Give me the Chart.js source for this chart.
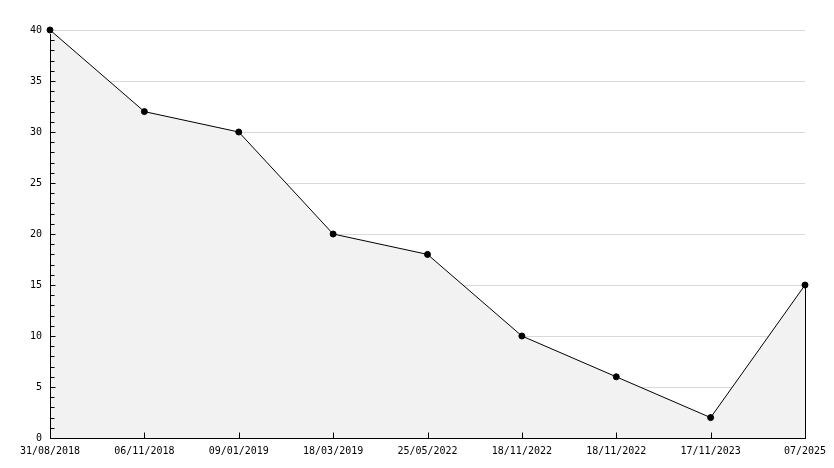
<!DOCTYPE html>
<html>
<head>
<meta charset="utf-8">
<script src="https://cdn.jsdelivr.net/npm/chart.js@4/dist/chart.umd.min.js"></script>
<style>
  html, body { margin: 0; padding: 0; background: #fff; }
  #wrap { width: 834px; height: 468px; }
</style>
</head>
<body>
<div id="wrap"><canvas id="lineChart" width="834" height="468"></canvas></div>
<script>
// adatok
const dates = ['31/08/2018', '06/11/2018', '09/01/2019', '18/03/2019', '25/05/2022',
               '18/11/2022', '18/11/2022', '17/11/2023', '07/2025'];
const values = [40, 32, 30, 20, 18, 10, 6, 2, 15];
const yMin = 0;
const yMax = 40;
const yStep = 5;

// tengelyek befelé álló jelölései + jobb oldali lezárás
const axisTicks = {
  id: 'axisTicks',
  beforeDatasetsDraw(chart) {
    const ctx = chart.ctx;
    const x = chart.scales.x;
    const y = chart.scales.y;
    // utolsó pont lezárása (a kitöltés szegélye)
    const last = values.length - 1;
    const lx = Math.round(x.getPixelForValue(last)) + 0.5;
    ctx.save();
    ctx.strokeStyle = '#000';
    ctx.lineWidth = 1;
    ctx.beginPath();
    ctx.moveTo(lx, y.getPixelForValue(values[last]));
    ctx.lineTo(lx, Math.round(y.bottom) + 0.5);
    ctx.stroke();
    ctx.restore();
  },
  afterDatasetsDraw(chart) {
    const ctx = chart.ctx;
    const x = chart.scales.x;
    const y = chart.scales.y;
    const left = Math.round(x.left) + 0.5;
    const bottom = Math.round(y.bottom) + 0.5;
    ctx.save();
    ctx.strokeStyle = '#000';
    ctx.lineWidth = 1;
    ctx.beginPath();
    // y tengely
    ctx.moveTo(left, Math.round(y.top) + 4);
    ctx.lineTo(left, bottom);
    // x tengely
    ctx.moveTo(left, bottom);
    ctx.lineTo(Math.round(x.right) + 1, bottom);
    // y jelölések
    for (let v = yMin; v < yMax; v++) {
      const py = Math.round(y.getPixelForValue(v)) + 0.5;
      const len = v % yStep === 0 ? 5 : 4;
      ctx.moveTo(left, py);
      ctx.lineTo(left + len, py);
    }
    // x jelölések
    for (let i = 0; i < dates.length; i++) {
      const px = Math.round(x.getPixelForValue(i)) + 0.5;
      ctx.moveTo(px, bottom);
      ctx.lineTo(px, bottom - 6);
    }
    ctx.stroke();
    ctx.restore();
  }
};

document.addEventListener("DOMContentLoaded", function () {

  const data = {
    labels: dates,
    datasets: [{
      data: values,
      borderColor: '#000',
      borderWidth: 1,
      backgroundColor: '#f2f2f2',
      fill: 'origin',
      tension: 0,
      clip: false,
      pointRadius: 3,
      pointHoverRadius: 3,
      pointBackgroundColor: '#000',
      pointBorderColor: '#000',
      pointBorderWidth: 1
    }]
  };

  const config = {
    type: 'line',
    data,
    options: {
      responsive: false,
      animation: false,
      devicePixelRatio: 1,
      layout: { padding: { top: 30, right: 29, left: 0, bottom: 0 } },
      plugins: {
        legend: { display: false },
        tooltip: { enabled: false }
      },
      scales: {
        x: {
          offset: false,
          afterFit(scale) { scale.height = 30; },
          grid: { display: true, drawOnChartArea: false, drawTicks: false },
          border: { display: true, color: '#000' },
          ticks: {
            color: '#000',
            font: { family: 'DejaVu Sans Mono', size: 10 },
            padding: 7,
            maxRotation: 0,
            autoSkip: false
          }
        },
        y: {
          min: yMin,
          max: yMax,
          afterFit(scale) { scale.width = 50; },
          grid: { color: '#d9d9d9', drawTicks: false },
          border: { display: true, color: '#000' },
          ticks: {
            stepSize: yStep,
            color: '#000',
            font: { family: 'DejaVu Sans Mono', size: 10 },
            padding: 8
          }
        }
      }
    },
    plugins: [axisTicks]
  };

  new Chart(
    document.getElementById('lineChart'),
    config
  );
})
</script>
</body>
</html>
